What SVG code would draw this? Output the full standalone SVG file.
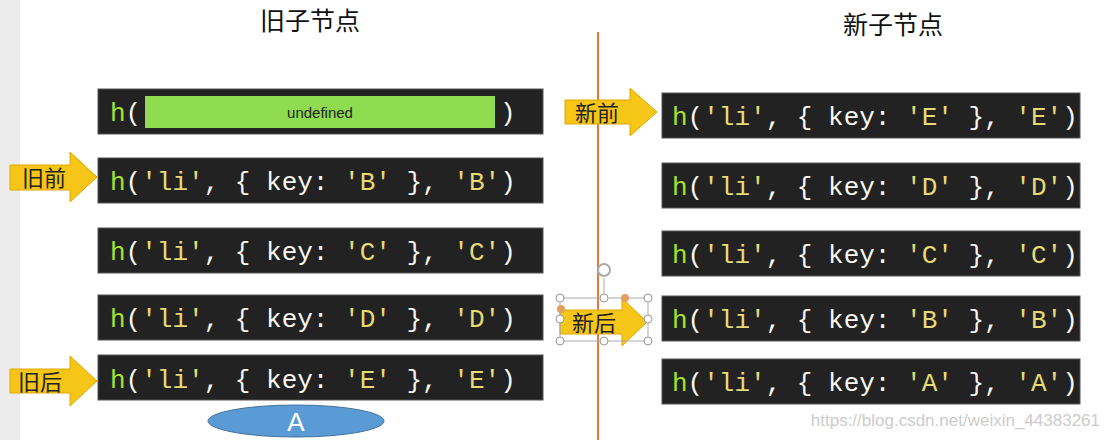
<svg xmlns="http://www.w3.org/2000/svg" width="1110" height="440" viewBox="0 0 1110 440">
<style>
.box{fill:#222222;stroke:#555;stroke-width:1}
.code{font-family:"Liberation Mono","DejaVu Sans Mono",monospace;font-size:26px;fill:#f8f8f2}
.g{fill:#a6e22e}.s{fill:#e6db74}
.arr{fill:#f5c518;stroke:#e0a800;stroke-width:1}
.lab{font-family:"Noto Sans CJK SC",sans-serif;font-size:22px;fill:#222}
.title{font-family:"Noto Sans CJK SC",sans-serif;font-size:25px;fill:#111}
.h{fill:#fff;stroke:#999;stroke-width:1}
</style>
<rect width="1110" height="440" fill="#fff"/>
<rect x="0" y="0" width="20" height="440" fill="#ececec"/>
<text class="title" x="310" y="30" text-anchor="middle">旧子节点</text>
<text class="title" x="893" y="34" text-anchor="middle">新子节点</text>
<g id="connectors"><line x1="598" y1="32" x2="598" y2="440" stroke="#e8763a" stroke-width="2"/></g>
<g id="old0"><rect class="box" x="98" y="89" width="445" height="45"/><text class="code" x="110" y="121"><tspan class="g">h</tspan>(</text><rect x="145" y="96" width="350" height="32" fill="#8fdc50"/><text x="320" y="118" text-anchor="middle" font-family="Liberation Sans,sans-serif" font-size="15" fill="#222">undefined</text><text class="code" x="500" y="121">)</text></g>
<g id="old1"><rect class="box" x="98" y="158" width="445" height="45"/><text class="code" x="110" y="190"><tspan class="g">h</tspan>(<tspan class="s">'li'</tspan>, { key: <tspan class="s">'B'</tspan> }, <tspan class="s">'B'</tspan>)</text></g>
<g id="old2"><rect class="box" x="98" y="228" width="445" height="45"/><text class="code" x="110" y="260"><tspan class="g">h</tspan>(<tspan class="s">'li'</tspan>, { key: <tspan class="s">'C'</tspan> }, <tspan class="s">'C'</tspan>)</text></g>
<g id="old3"><rect class="box" x="98" y="295" width="445" height="45"/><text class="code" x="110" y="327"><tspan class="g">h</tspan>(<tspan class="s">'li'</tspan>, { key: <tspan class="s">'D'</tspan> }, <tspan class="s">'D'</tspan>)</text></g>
<g id="old4"><rect class="box" x="98" y="355" width="445" height="45"/><text class="code" x="110" y="388"><tspan class="g">h</tspan>(<tspan class="s">'li'</tspan>, { key: <tspan class="s">'E'</tspan> }, <tspan class="s">'E'</tspan>)</text></g>
<g id="new0"><rect class="box" x="662" y="93" width="418" height="45"/><text class="code" x="672" y="125"><tspan class="g">h</tspan>(<tspan class="s">'li'</tspan>, { key: <tspan class="s">'E'</tspan> }, <tspan class="s">'E'</tspan>)</text></g>
<g id="new1"><rect class="box" x="662" y="163" width="418" height="45"/><text class="code" x="672" y="195"><tspan class="g">h</tspan>(<tspan class="s">'li'</tspan>, { key: <tspan class="s">'D'</tspan> }, <tspan class="s">'D'</tspan>)</text></g>
<g id="new2"><rect class="box" x="662" y="231" width="418" height="45"/><text class="code" x="672" y="263"><tspan class="g">h</tspan>(<tspan class="s">'li'</tspan>, { key: <tspan class="s">'C'</tspan> }, <tspan class="s">'C'</tspan>)</text></g>
<g id="new3"><rect class="box" x="662" y="296" width="418" height="45"/><text class="code" x="672" y="328"><tspan class="g">h</tspan>(<tspan class="s">'li'</tspan>, { key: <tspan class="s">'B'</tspan> }, <tspan class="s">'B'</tspan>)</text></g>
<g id="new4"><rect class="box" x="662" y="359" width="418" height="45"/><text class="code" x="672" y="391"><tspan class="g">h</tspan>(<tspan class="s">'li'</tspan>, { key: <tspan class="s">'A'</tspan> }, <tspan class="s">'A'</tspan>)</text></g>
<g id="oldStart"><path class="arr" d="M10,165 H70 V152 L97,177 L70,202 V190 H10 Z"/><text class="lab" x="22" y="186">旧前</text></g>
<g id="oldEnd"><path class="arr" d="M10,369 H70 V356 L97,381 L70,406 V393 H10 Z"/><text class="lab" x="18" y="390">旧后</text></g>
<g id="newStart"><path class="arr" d="M565,100 H630 V88 L657,112 L630,136 V124 H565 Z"/><text class="lab" x="575" y="121">新前</text></g>
<g id="newEnd"><path class="arr" d="M560,310 H622 V298 L647,322 L622,346 V334 H560 Z"/><text class="lab" x="572" y="331">新后</text>
<rect x="560" y="298" width="88" height="43" fill="none" stroke="#aaa" stroke-width="1"/>
<line x1="604" y1="298" x2="604" y2="278" stroke="#aaa"/>
<circle cx="604" cy="270" r="6" fill="none" stroke="#aaa" stroke-width="2"/>
<circle class="h" cx="560" cy="298" r="4"/><circle class="h" cx="604" cy="298" r="4"/><circle class="h" cx="648" cy="298" r="4"/>
<circle class="h" cx="560" cy="319" r="4"/><circle class="h" cx="648" cy="319" r="4"/>
<circle class="h" cx="560" cy="341" r="4"/><circle class="h" cx="604" cy="341" r="4"/><circle class="h" cx="648" cy="341" r="4"/>
<circle cx="625" cy="298" r="4" fill="#e0a060"/><circle cx="561" cy="309" r="4" fill="#e0a060"/></g>
<g id="A"><ellipse cx="296" cy="421" rx="88" ry="16" fill="#5b9bd5" stroke="#41719c"/><text x="296" y="431" text-anchor="middle" font-family="Liberation Sans,sans-serif" font-size="26" fill="#fff">A</text></g>
<text x="1100" y="426" text-anchor="end" font-family="Liberation Sans,sans-serif" font-size="17" fill="#ccc">https://blog.csdn.net/weixin_44383261</text>
</svg>
